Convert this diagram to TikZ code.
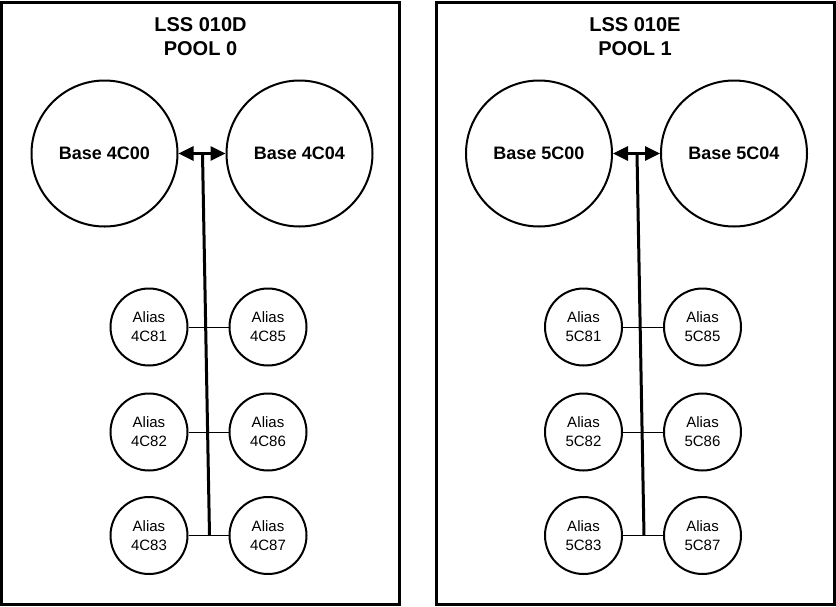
\documentclass[tikz,border=0pt]{standalone}
\usepackage{fontspec}
\setmainfont{Liberation Sans}
\usetikzlibrary{arrows.meta}
\tikzset{
  panelbox/.style={draw,line width=3pt},
  basenode/.style={circle,draw,line width=2pt,minimum size=146pt,inner sep=0pt,font=\fontsize{18}{20}\selectfont\bfseries},
  aliasnode/.style={circle,draw,line width=2pt,minimum size=77pt,inner sep=0pt,align=center,font=\fontsize{15}{19}\selectfont},
  titlenode/.style={align=center,font=\fontsize{20}{24}\selectfont\bfseries},
  trunk/.style={line width=3pt},
  link/.style={line width=1pt},
  dbl/.style={line width=3pt,{Triangle[length=15pt,width=14pt]}-{Triangle[length=15pt,width=14pt]}}
}
\newcommand\lsspanel[5]{%
\begin{scope}[shift={(#2,0)},name prefix=#1-]
  \node[panelbox,minimum width=398pt,minimum height=602pt,inner sep=0pt] (box) at (200.5,303) {};
  \node[titlenode] (title) at (200.5,37) {#3\\#4};
  \node[basenode] (b0) at (104.5,153.5) {Base #5C00};
  \node[basenode] (b4) at (299.5,153.5) {Base #5C04};
  \node[aliasnode] (a1) at (149,327) {Alias\\#5C81};
  \node[aliasnode] (a2) at (149,432) {Alias\\#5C82};
  \node[aliasnode] (a3) at (149,535.5) {Alias\\#5C83};
  \node[aliasnode] (a5) at (268,327) {Alias\\#5C85};
  \node[aliasnode] (a6) at (268,432) {Alias\\#5C86};
  \node[aliasnode] (a7) at (268,535.5) {Alias\\#5C87};
  \draw[dbl] (b0) -- (b4);
  \coordinate (top) at (202.5,153.5);
  \coordinate (bot) at (209.5,535.5);
  \draw[trunk] (top) -- (bot);
  \draw[link] (a1) -- (a5);
  \draw[link] (a2) -- (a6);
  \draw[link] (a3) -- (a7);
\end{scope}}
\begin{document}
\begin{tikzpicture}[x=1pt,y=-1pt]
  \useasboundingbox (0,0) rectangle (836,606);
  \lsspanel{L}{0}{LSS 010D}{POOL 0}{4}
  \lsspanel{R}{434.5}{LSS 010E}{POOL 1}{5}
\end{tikzpicture}
\end{document}
